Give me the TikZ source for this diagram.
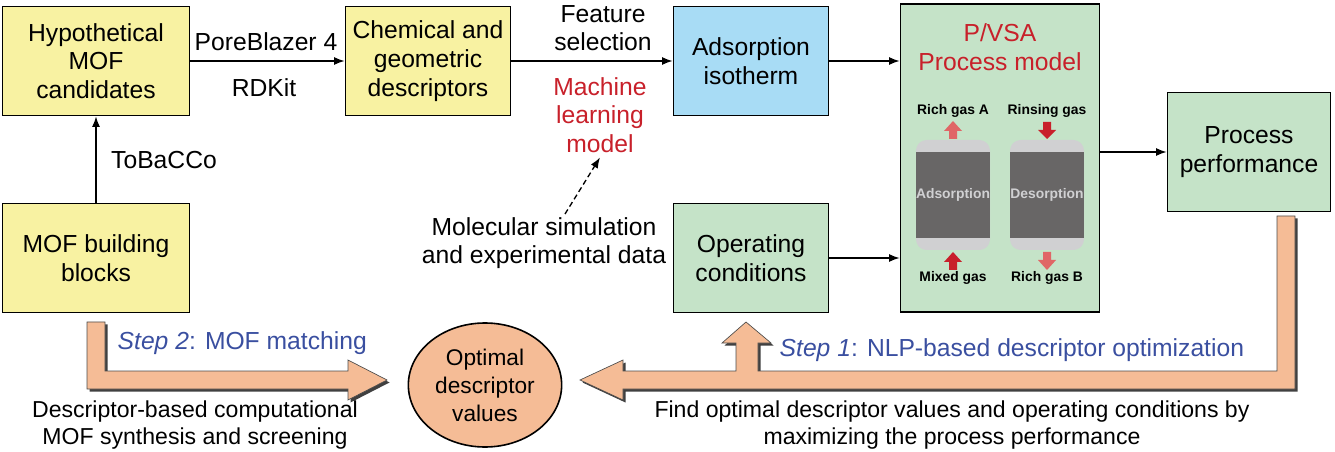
\documentclass[tikz,border=0pt]{standalone}
\usepackage{fontspec}
\setmainfont{Liberation Sans}
\usetikzlibrary{arrows.meta,shapes.geometric,shapes.arrows}
\definecolor{ybox}{HTML}{F8F2A2}
\definecolor{gbox}{HTML}{C5E3C8}
\definecolor{bbox}{HTML}{A8DCF5}
\definecolor{org}{HTML}{F5BC96}
\definecolor{redt}{HTML}{C8202A}
\definecolor{bluet}{HTML}{3A4FA0}
\definecolor{lred}{HTML}{E06666}
\definecolor{dgray}{HTML}{686666}
\definecolor{lgray}{HTML}{D0D0D2}
\begin{document}
\begin{tikzpicture}[x=0.75pt,y=-0.75pt,
  box/.style={draw=black,line width=1.2pt,align=center,font=\fontsize{18.5}{21.5}\selectfont},
  lbl/.style={align=center,font=\fontsize{18.5}{21.5}\selectfont},
  bot/.style={align=center,font=\fontsize{17.3}{20}\selectfont},
  sm/.style={font=\fontsize{10.4}{12}\selectfont\bfseries},
  conn/.style={-{Latex[length=8pt,width=6pt]},line width=1.1pt},
  band/.style={fill=org,draw=black!70,line width=0.5pt}]
\useasboundingbox (0,0) rectangle (1335,452);
% boxes
\node[box,fill=ybox,minimum width=187*0.75pt,minimum height=109*0.75pt] (hyp) at (96,61) {Hypothetical\\MOF\\candidates};
\node[box,fill=ybox,minimum width=187*0.75pt,minimum height=109*0.75pt] (blk) at (96,258) {MOF building\\blocks};
\node[box,fill=ybox,minimum width=165*0.75pt,minimum height=109*0.75pt] (chem) at (428,61) {Chemical and\\geometric\\descriptors};
\node[box,fill=bbox,minimum width=155*0.75pt,minimum height=109*0.75pt] (ads) at (751,61) {Adsorption\\isotherm};
\node[box,fill=gbox,minimum width=155*0.75pt,minimum height=109*0.75pt] (op) at (751,258) {Operating\\conditions};
\node[box,fill=gbox,minimum width=199*0.75pt,minimum height=308*0.75pt] (pvsa) at (1000,158) {};
\node[box,fill=gbox,minimum width=163*0.75pt,minimum height=119*0.75pt] (perf) at (1249,152) {Process\\performance};
% connectors
\draw[conn] (hyp.east) -- (chem.west);
\draw[conn] (chem.east) -- (ads.west);
\draw[conn] (blk.north) -- (hyp.south);
\coordinate (pa) at (pvsa.west |- ads.east);
\coordinate (pb) at (pvsa.west |- op.east);
\draw[conn] (ads.east) -- (pa);
\draw[conn] (op.east) -- (pb);
\coordinate (pc) at (pvsa.east |- perf.west);
\draw[conn] (pc) -- (perf.west);
% labels
\node[lbl] (pb4) at (266,42) {PoreBlazer 4};
\node[lbl] (rdk) at (264,88) {RDKit};
\node[lbl] (feat) at (603,28) {Feature\\selection};
\node[lbl,text=redt] (ml) at (600,115) {Machine\\learning\\model};
\node[lbl] (mol) at (544,243) {Molecular simulation\\and experimental data};
\draw[-{Latex[length=8pt,width=6pt]},line width=1pt,dash pattern=on 4pt off 2.5pt] (565,214) -- (ml.south);
\node[lbl] (tob) at (164,160) {ToBaCCo};
\node[lbl,text=redt] (pt) at (1000,47) {P/VSA\\Process model};
% columns
\foreach \cx/\nm in {953/Adsorption,1047/Desorption}{
  \fill[lgray,rounded corners=8pt] (\cx-37,140) rectangle (\cx+37,250);
  \fill[dgray] (\cx-37,152) rectangle (\cx+37,238);
  \node[sm,text=lgray] at (\cx,195) {\nm};
}
\node[sm] (ra) at (953,111) {Rich gas A};
\node[sm] (rg) at (1047,111) {Rinsing gas};
\node[sm] (mg) at (953,278) {Mixed gas};
\node[sm] (rb) at (1047,278) {Rich gas B};
\fill[lred] (949,139)--(949,131)--(944,131)--(953,121)--(962,131)--(957,131)--(957,139)--cycle;
\fill[redt] (1043,122)--(1043,130)--(1038,130)--(1047,139)--(1056,130)--(1051,130)--(1051,122)--cycle;
\fill[redt] (949,270)--(949,262)--(944,262)--(953,252)--(962,262)--(957,262)--(957,270)--cycle;
\fill[lred] (1043,252)--(1043,260)--(1038,260)--(1047,270)--(1056,260)--(1051,260)--(1051,252)--cycle;
% wide arrows
\begin{scope}[shift={(2.5,2.5)}]
\fill[black!75] (87,322)--(105,322)--(105,371)--(348,371)--(348,360)--(387,380)--(348,400)--(348,389)--(87,389)--cycle;
\fill[black!75] (1277,216)--(1295,216)--(1295,389)--(623,389)--(623,400)--(580,380)--(623,360)--(623,371)--(736,371)--(736,343)--(722,343)--(746,322)--(771,343)--(758,343)--(758,371)--(1277,371)--cycle;
\end{scope}
\draw[band] (87,322)--(105,322)--(105,371)--(348,371)--(348,360)--(387,380)--(348,400)--(348,389)--(87,389)--cycle;
\draw[band] (1277,216)--(1295,216)--(1295,389)--(623,389)--(623,400)--(580,380)--(623,360)--(623,371)--(736,371)--(736,343)--(722,343)--(746,322)--(771,343)--(758,343)--(758,371)--(1277,371)--cycle;
\node[draw=black,line width=1.2pt,fill=org,ellipse,minimum width=146*0.75pt,minimum height=124*0.75pt,align=center,font=\fontsize{17}{21}\selectfont] (opt) at (485,385) {Optimal\\descriptor\\values};
\node[lbl,text=bluet,anchor=west] (s2) at (113,343) {\textit{Step 2}: MOF matching};
\node[lbl,text=bluet,anchor=west] (s1) at (775,350) {\textit{Step 1}: NLP-based descriptor optimization};
\node[bot] (d1) at (195,425) {Descriptor-based computational\\MOF synthesis and screening};
\node[bot] (d2) at (952,425) {Find optimal descriptor values and operating conditions by\\maximizing the process performance};
\end{tikzpicture}
\end{document}
